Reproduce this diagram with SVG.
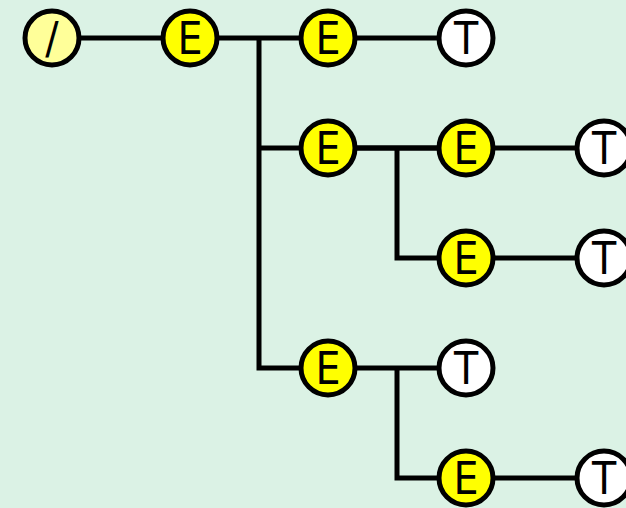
<svg xmlns="http://www.w3.org/2000/svg" width="626" height="508" viewBox="0 0 626 508">
<style>
.c{stroke:#000;stroke-width:5}
.r{fill:#ffff99}
.e{fill:#ffff00}
.t{fill:#ffffff}
.l{font-family:"DejaVu Sans Condensed","DejaVu Sans",sans-serif;font-size:44px;text-anchor:middle;fill:#000}
#edges path{fill:none;stroke:#000;stroke-width:5}
</style>
<rect width="626" height="508" fill="#dbf2e5"/>
<g id="edges">
<path d="M52 38H328M259 38V368H328M259 148H466M328 38H466"/>
<path d="M328 148H604M397 148V258H604"/>
<path d="M328 368H466M397 368V478H604"/>
</g>
<g id="n0"><circle class="c r" cx="52" cy="38" r="27"/><text class="l" x="52" y="54">/</text></g>
<g id="n1"><circle class="c e" cx="190" cy="38" r="27"/><text class="l" x="190" y="54">E</text></g>
<g id="n2"><circle class="c e" cx="328" cy="38" r="27"/><text class="l" x="328" y="54">E</text></g>
<g id="n3"><circle class="c t" cx="466" cy="38" r="27"/><text class="l" x="466" y="54">T</text></g>
<g id="n4"><circle class="c e" cx="328" cy="148" r="27"/><text class="l" x="328" y="164">E</text></g>
<g id="n5"><circle class="c e" cx="466" cy="148" r="27"/><text class="l" x="466" y="164">E</text></g>
<g id="n6"><circle class="c t" cx="604" cy="148" r="27"/><text class="l" x="604" y="164">T</text></g>
<g id="n7"><circle class="c e" cx="466" cy="258" r="27"/><text class="l" x="466" y="274">E</text></g>
<g id="n8"><circle class="c t" cx="604" cy="258" r="27"/><text class="l" x="604" y="274">T</text></g>
<g id="n9"><circle class="c e" cx="328" cy="368" r="27"/><text class="l" x="328" y="384">E</text></g>
<g id="n10"><circle class="c t" cx="466" cy="368" r="27"/><text class="l" x="466" y="384">T</text></g>
<g id="n11"><circle class="c e" cx="466" cy="478" r="27"/><text class="l" x="466" y="494">E</text></g>
<g id="n12"><circle class="c t" cx="604" cy="478" r="27"/><text class="l" x="604" y="494">T</text></g>
</svg>
